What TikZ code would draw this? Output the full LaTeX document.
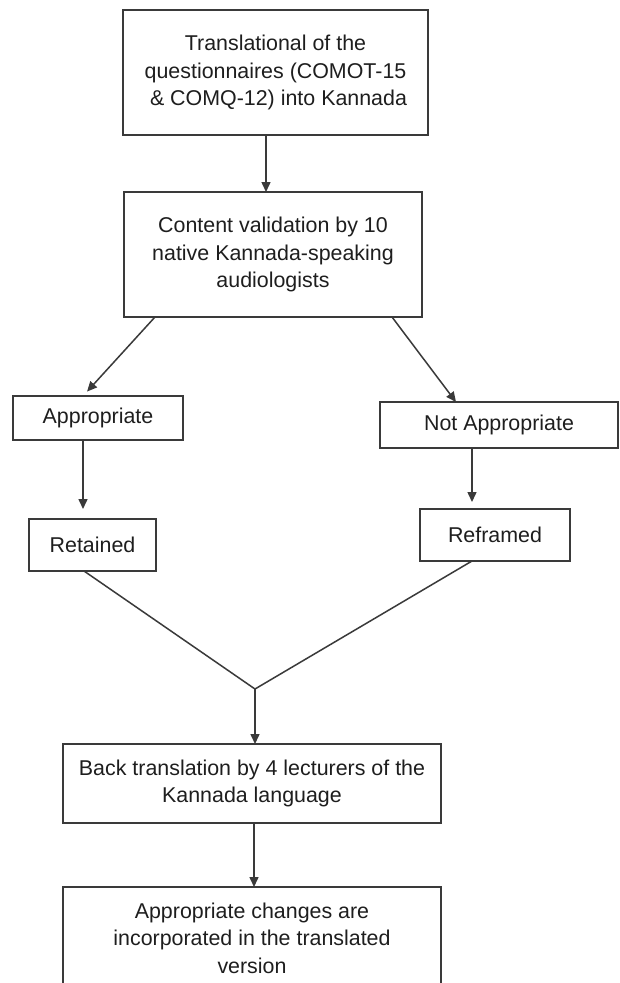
\documentclass[tikz,border=0pt]{standalone}
\usepackage{fontspec}
\setmainfont{Liberation Sans}
\usetikzlibrary{arrows.meta}
\definecolor{linec}{HTML}{3A3A3A}
\definecolor{textc}{HTML}{1E1E1E}
\begin{document}
\begin{tikzpicture}[x=1pt,y=-1pt,
  box/.style={draw=linec, line width=1.5pt, text=textc, inner sep=0pt, outer sep=0pt,
    align=center, font=\fontsize{21.4}{27.5}\selectfont},
  arr/.style={draw=linec, line width=1.5pt, -{Triangle[length=10pt,width=9pt]}},
  plainline/.style={draw=linec, line width=1.5pt}]
\useasboundingbox (0,0) rectangle (619,983);
\fill[white] (0,0) rectangle (619,983);
\clip (0,0) rectangle (619,983);
% x positions for connectors
\coordinate (x266) at (266,0);
\coordinate (x155) at (155,0);
\coordinate (x83) at (83,0);
\coordinate (x84) at (84,0);
\coordinate (x392) at (392,0);
\coordinate (x456) at (456,0);
\coordinate (x472) at (472,0);
\coordinate (x255) at (255,0);
\coordinate (x254) at (254,0);
% boxes
\node[box, minimum width=305pt, minimum height=125pt] (b1) at (275.5,72.5)
  {Translational of the\\questionnaires (COMOT-15\\\hspace*{6pt}\& COMQ-12) into Kannada};
\node[box, minimum width=298pt, minimum height=125pt] (b2) at (273,254.5)
  {Content validation by 10\\native Kannada-speaking\\audiologists};
\node[box, minimum width=170pt, minimum height=44pt] (app) at (98,418) {Appropriate};
\node[box, minimum width=238pt, minimum height=46pt] (napp) at (499,425) {Not Appropriate};
\node[box, minimum width=127pt, minimum height=52pt] (ret) at (92.5,545) {Retained};
\node[box, minimum width=150pt, minimum height=52pt] (ref) at (495,535) {Reframed};
\node[box, minimum width=378pt, minimum height=79pt] (back) at (252,783.5)
  {Back translation by 4 lecturers of the\\Kannada language};
\node[box, minimum width=378pt, minimum height=102pt] (fin) at (252,938)
  {Appropriate changes are\\incorporated in the translated\\version};
\coordinate (j) at (255,689);
% connectors
\draw[arr] (b1.south -| x266) -- (b2.north -| x266);
\draw[arr, shorten >=6pt] (b2.south -| x155) -- (app.north -| x83);
\draw[arr] (b2.south -| x392) -- (napp.north -| x456);
\draw[arr, shorten >=10pt] (app.south -| x83) -- (ret.north -| x83);
\draw[arr, shorten >=7pt] (napp.south -| x472) -- (ref.north -| x472);
\draw[plainline] (ret.south -| x84) -- (j) -- (ref.south -| x472);
\draw[arr] (j) -- (back.north -| x255);
\draw[arr] (back.south -| x254) -- (fin.north -| x254);
\end{tikzpicture}
\end{document}
